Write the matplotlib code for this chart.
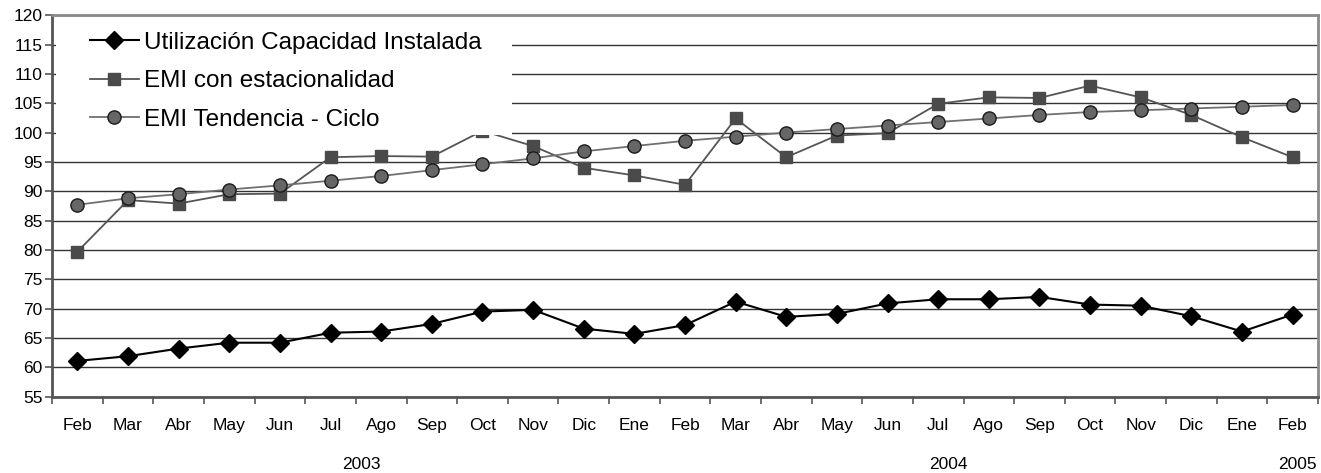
import numpy as np
import matplotlib
matplotlib.use("Agg")
import matplotlib.pyplot as plt
from matplotlib.patches import Rectangle
from matplotlib.transforms import blended_transform_factory

plt.rcParams['font.family'] = ['Liberation Sans', 'DejaVu Sans']

# datos
meses = ['Feb', 'Mar', 'Abr', 'May', 'Jun', 'Jul', 'Ago', 'Sep', 'Oct', 'Nov', 'Dic', 'Ene',
         'Feb', 'Mar', 'Abr', 'May', 'Jun', 'Jul', 'Ago', 'Sep', 'Oct', 'Nov', 'Dic', 'Ene', 'Feb']
anios = ['2003', '2004', '2005']
anios_pos = [5.6, 17.2, 24.1]

uci = [61.1, 61.9, 63.2, 64.2, 64.2, 65.9, 66.1, 67.4, 69.5, 69.8, 66.6, 65.7,
       67.2, 71.2, 68.6, 69.1, 70.9, 71.6, 71.6, 72.0, 70.7, 70.5, 68.7, 66.1, 69.0]
emi_est = [79.7, 88.5, 87.9, 89.5, 89.6, 95.8, 96.0, 95.9, 100.3, 97.7, 94.0, 92.7,
           91.1, 102.4, 95.8, 99.5, 99.9, 104.9, 106.0, 105.9, 108.0, 106.0, 103.0, 99.2, 95.8]
emi_tc = [87.7, 88.8, 89.5, 90.3, 91.0, 91.8, 92.6, 93.6, 94.6, 95.6, 96.8, 97.7,
          98.6, 99.3, 100.0, 100.6, 101.2, 101.8, 102.4, 103.0, 103.5, 103.8, 104.1, 104.4, 104.7]

x = np.arange(len(meses))

fig = plt.figure(figsize=(13.21, 4.73), dpi=100)
ax = fig.add_axes([0.0394, 0.1613, 0.9583, 0.8066])

ax.plot(x, uci, color='black', lw=1.5, marker='D', ms=9, mfc='black', mec='black',
        label='Utilización Capacidad Instalada', zorder=4)
ax.plot(x, emi_est, color='#555555', lw=1.3, marker='s', ms=8, mfc='#4a4a4a', mec='#4a4a4a',
        label='EMI con estacionalidad', zorder=3)
ax.plot(x, emi_tc, color='#707070', lw=1.3, marker='o', ms=9.5, mfc='#666666', mec='#1a1a1a',
        mew=1.0, label='EMI Tendencia - Ciclo', zorder=3)

ax.set_xlim(-0.5, len(meses) - 0.5)
ax.set_ylim(55, 120)
ax.set_yticks(np.arange(55, 121, 5))
ax.yaxis.grid(True, color='#333333', lw=1.0)
ax.set_axisbelow(True)

# etiquetas de meses centradas, marcas entre categorias
ax.set_xticks(x)
ax.set_xticklabels(meses, fontsize=12.5)
ax.set_xticks(np.arange(-0.5, len(meses), 1), minor=True)
ax.tick_params(axis='x', which='major', length=0, pad=15)
ax.tick_params(axis='x', which='minor', length=5, width=1.2, color='#555555')
ax.tick_params(axis='y', length=5, width=1.2, color='#555555', labelsize=12.5, pad=2)

for s in ['left', 'bottom']:
    ax.spines[s].set_color('#555555')
    ax.spines[s].set_linewidth(2)
for s in ['top', 'right']:
    ax.spines[s].set_color('#8a8a8a')
    ax.spines[s].set_linewidth(2)

trans = blended_transform_factory(ax.transData, ax.transAxes)
for a, p in zip(anios, anios_pos):
    ax.text(p, -0.179, a, transform=trans, ha='center', va='center', fontsize=12.5)

# caja blanca de la leyenda
ax.add_patch(Rectangle((0.003, 0.686), 0.36, 0.309, transform=ax.transAxes,
                       fc='white', ec='none', zorder=5))
leg = ax.legend(loc='upper left', bbox_to_anchor=(0.0224, 0.982), frameon=False,
                fontsize=17.5, handlelength=2.0, handletextpad=0.2, labelspacing=0.68,
                borderaxespad=0)
leg.set_zorder(6)

fig.savefig('out.png', dpi=100)
